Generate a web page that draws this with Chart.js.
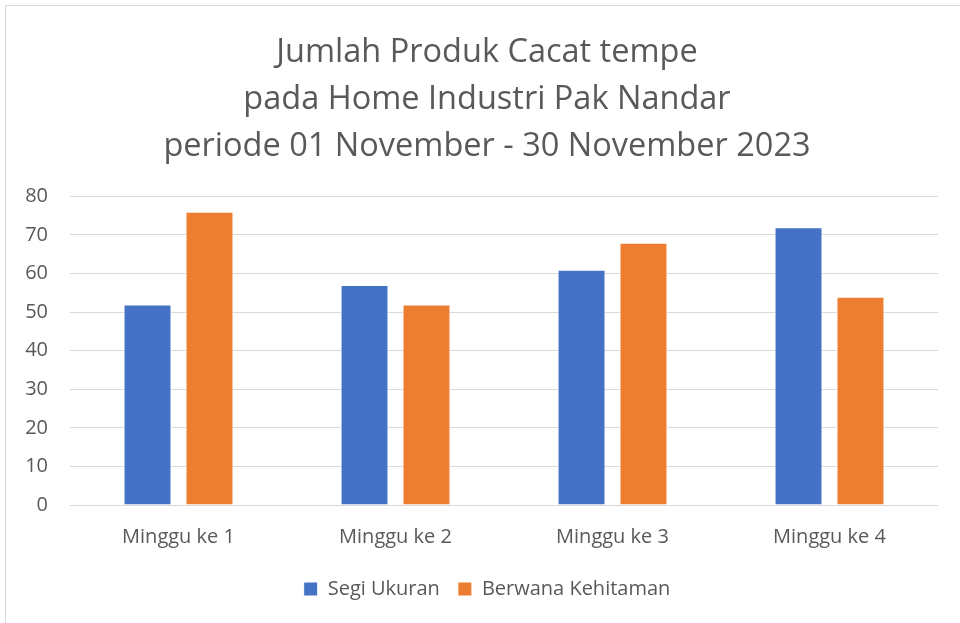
<!DOCTYPE html>
<html>
<head>
<meta charset="utf-8">
<script src="https://cdn.jsdelivr.net/npm/chart.js@4.4.0/dist/chart.umd.min.js"></script>
<style>
  html, body { margin: 0; padding: 0; background: #ffffff; }
  #wrap { position: relative; width: 960px; height: 623px; overflow: hidden; }
  #frame { position: absolute; left: 5px; top: 5px; width: 970px; height: 640px; border: 1px solid #d9d9d9; }
  canvas { position: absolute; left: 0; top: 0; }
</style>
</head>
<body>
<div id="wrap">
  <div id="frame"></div>
  <canvas id="chart" width="960" height="623"></canvas>
</div>
<script>
// data from the picture
const titleLines = [
  "Jumlah Produk Cacat tempe",
  "pada Home Industri Pak Nandar",
  "periode 01 November - 30 November 2023"
]
const categories = ["Minggu ke 1", "Minggu ke 2", "Minggu ke 3", "Minggu ke 4"]
const segiUkuran = [52, 57, 61, 72]
const berwanaKehitaman = [76, 52, 68, 54]
const yTicks = [0, 10, 20, 30, 40, 50, 60, 70, 80]

const textColor = "#595959"
const fontFamily = "'Open Sans', 'Liberation Sans', sans-serif"

// the y labels sit left of the padded area, so widen their clip box
const unclipY = {
  id: "unclipY",
  afterLayout(chart) {
    chart.scales.y.left = 0
  },
}

const canvas = document.getElementById("chart")

new Chart(canvas, {
  type: "bar",
  data: {
    labels: categories,
    datasets: [
      {
        label: "Segi Ukuran",
        data: segiUkuran,
        backgroundColor: "#4472c4",
        borderColor: "#ffffff",
        borderWidth: 1,
      },
      {
        label: "Berwana Kehitaman",
        data: berwanaKehitaman,
        backgroundColor: "#ed7d31",
        borderColor: "#ffffff",
        borderWidth: 1,
      },
    ],
  },
  plugins: [unclipY],
  options: {
    responsive: false,
    animation: false,
    categoryPercentage: 0.571,
    barPercentage: 0.774,
    layout: { padding: { left: 36, right: 22, top: 29, bottom: 14 } },
    plugins: {
      title: {
        display: true,
        text: titleLines,
        color: textColor,
        font: { family: fontFamily, size: 32.5, weight: "normal", lineHeight: 1.45 },
        padding: { top: 0, bottom: 26 },
      },
      legend: {
        position: "bottom",
        labels: {
          color: textColor,
          font: { family: fontFamily, size: 20 },
          boxWidth: 14,
          boxHeight: 14,
          padding: 18,
        },
      },
      tooltip: { enabled: false },
    },
    scales: {
      x: {
        grid: { display: false },
        border: { display: false },
        ticks: { color: textColor, font: { family: fontFamily, size: 20 }, padding: 12 },
      },
      y: {
        min: 0,
        max: 80,
        afterFit: (scale) => { scale.width = 34 },
        afterBuildTicks: (scale) => { scale.ticks = yTicks.map((v) => ({ value: v })) },
        grid: { color: "#d9d9d9", lineWidth: 1, drawTicks: false },
        border: { display: false },
        ticks: { color: textColor, font: { family: fontFamily, size: 20 }, padding: 22 },
      },
    },
  },
})
</script>
</body>
</html>
